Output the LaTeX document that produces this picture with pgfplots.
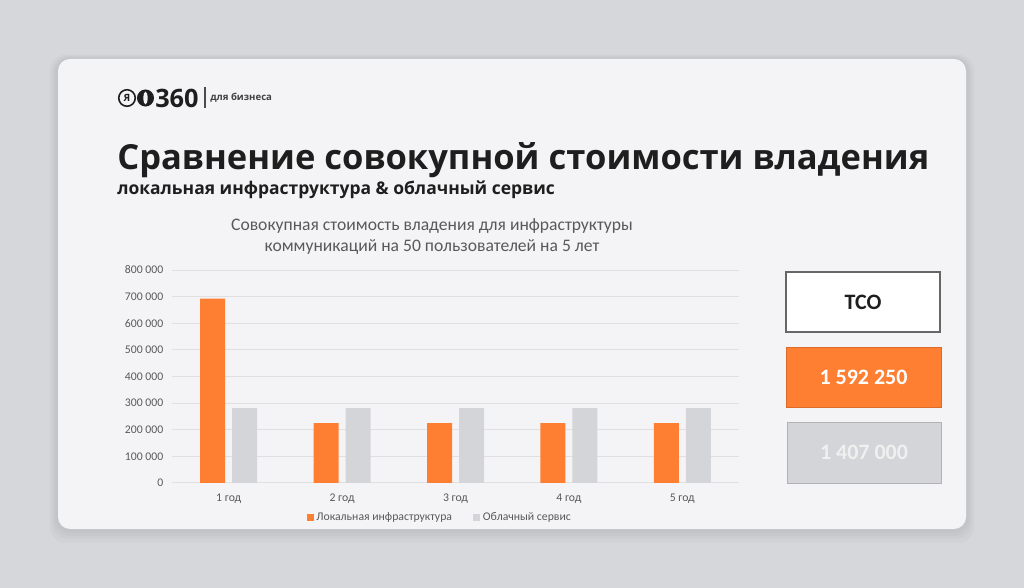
\documentclass[border=0pt]{standalone}
\usepackage{fontspec}
\setmainfont{Carlito}
\newfontfamily\titlefont{Open Sans}
\usepackage{pgfplots}
\usepackage{pgfplotstable}
\pgfplotsset{compat=1.18}

\definecolor{bg}{RGB}{213,215,219}
\definecolor{card}{RGB}{244,244,246}
\definecolor{yorange}{RGB}{255,127,50}
\definecolor{ygray}{RGB}{212,213,216}
\definecolor{txtgray}{RGB}{89,89,89}
\definecolor{gridgray}{RGB}{224,224,226}
\definecolor{ink}{RGB}{30,30,30}

% values in rubles, 5 years
\pgfplotstableread{
x local cloud
0 692250 281400
1 225000 281400
2 225000 281400
3 225000 281400
4 225000 281400
}\tco

\begin{document}
\begin{tikzpicture}[x=0.75pt,y=0.75pt]
% page and card (1 unit = 1px of the reference, y measured from bottom)
\fill[bg] (0,0) rectangle (1024,588);
\useasboundingbox (0,0) rectangle (1024,588);
\foreach \s in {14,10,7,4}
  \fill[black,opacity=0.018,rounded corners=12pt] (58-\s*0.6,59-\s) rectangle (966+\s*0.6,529+\s*0.3);
\fill[card,rounded corners=9pt] (58,59) rectangle (966,529);

% logo
\draw[ink,line width=1.2pt] (127,490) circle (6.2pt);
\node[ink,font=\titlefont\bfseries\fontsize{7.5}{8}\selectfont,inner sep=0pt] at (127,490) {Я};
\fill[ink] (145.5,490) circle (6.4pt);
\fill[card] (145.5,490) ellipse (1.6pt and 4.8pt);
\node[ink,anchor=west,inner sep=0pt,font=\titlefont\bfseries\fontsize{19}{20}\selectfont] at (155,490) {360};
\draw[ink!80,line width=0.8pt] (205,480) -- (205,501);
\node[ink!85,anchor=west,inner sep=0pt,font=\titlefont\bfseries\fontsize{7.2}{8}\selectfont] at (210,490) {для бизнеса};

% titles
\node[ink,anchor=base west,inner sep=0pt,font=\titlefont\bfseries\fontsize{25.9}{30}\selectfont] at (117,418) {Сравнение совокупной стоимости владения};
\node[ink,anchor=base west,inner sep=0pt,font=\titlefont\bfseries\fontsize{13.1}{15}\selectfont] at (117,393) {локальная инфраструктура \& облачный сервис};
\node[txtgray,align=center,inner sep=0pt,font=\fontsize{13.2}{15.75}\selectfont] at (432,351) {Совокупная стоимость владения для инфраструктуры\\коммуникаций на 50 пользователей на 5 лет};

\coordinate (axpos) at (172,105);
\begin{axis}[
  at={(axpos)}, anchor=south west,
  scale only axis,
  width=425.25pt, height=159.75pt,
  xmin=-0.5, xmax=4.5,
  ymin=0, ymax=800000,
  xtick={0,1,2,3,4},
  xticklabels={1 год,2 год,3 год,4 год,5 год},
  ytick={0,100000,...,800000},
  scaled y ticks=false,
  /pgf/number format/fixed,
  /pgf/number format/1000 sep={\ },
  /pgf/number format/assume math mode=true,
  ymajorgrids,
  grid style={gridgray,line width=0.75pt},
  axis line style={draw=none},
  major tick length=0pt,
  tick label style={txtgray,font=\fontsize{8.8}{10}\selectfont},
  yticklabel style={xshift=-3pt},
  xticklabel style={yshift=-4.5pt},
  ybar=5.25pt, bar width=18.75pt,
  legend style={at={(0.473,-0.16)},anchor=center,draw=none,fill=none,
    legend columns=2,font=\fontsize{8.8}{10}\selectfont,text=txtgray,
    /tikz/every even column/.append style={column sep=14pt}},
  legend image code/.code={\fill[#1] (0pt,-2.6pt) rectangle (5.2pt,2.6pt);},
]
\addplot[fill=yorange,draw=none] table[x=x,y=local] {\tco};
\addlegendentry{Локальная инфраструктура}
\addplot[fill=ygray,draw=none] table[x=x,y=cloud] {\tco};
\addlegendentry{Облачный сервис}
\end{axis}

% TCO boxes
\draw[fill=white,draw=black!60,line width=0.8pt] (786,256) rectangle (940,316);
\node[ink,font=\bfseries\fontsize{16.5}{18}\selectfont] at (863,286) {TCO};
\draw[fill=yorange,draw=yorange!85!black,line width=0.6pt] (786,181) rectangle (941,241);
\node[white,font=\bfseries\fontsize{16.5}{18}\selectfont] at (863.5,211) {1 592 250};
\draw[fill=ygray,draw=black!30,line width=0.6pt] (787,105) rectangle (941,166);
\node[white!94!black,font=\bfseries\fontsize{16.5}{18}\selectfont] at (864,135.5) {1 407 000};
\end{tikzpicture}
\end{document}
